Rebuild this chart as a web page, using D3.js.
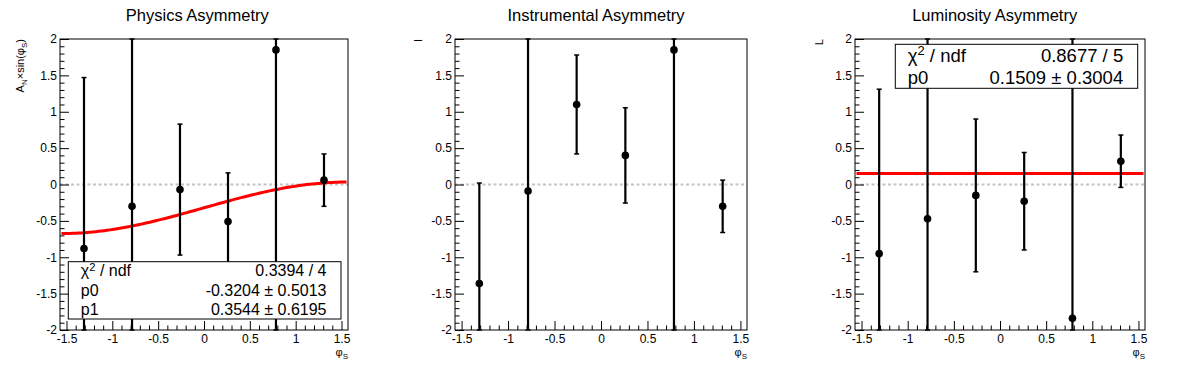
<!DOCTYPE html>
<html>
<head>
<meta charset="utf-8">
<script src="https://cdn.jsdelivr.net/npm/d3@7"></script>
<style>
  body { margin: 0; background: #fff; }
  text { font-family: "Liberation Sans", Arial, Helvetica, sans-serif; fill: #000; }
</style>
</head>
<body>
<div id="chart"></div>
<script>
// data
const binCenters = [-1.309, -0.785, -0.262, 0.262, 0.785, 1.309];

const physVals = [-0.88, -0.30, -0.07, -0.51, 1.85, 0.06];
const physErrs = [2.35, 3.0, 0.90, 0.67, 4.0, 0.36];
const instVals = [-1.36, -0.09, 1.10, 0.40, 1.85, -0.30];
const instErrs = [1.38, 3.0, 0.68, 0.655, 4.0, 0.36];
const lumiVals = [-0.95, -0.47, -0.15, -0.23, -1.84, 0.32];
const lumiErrs = [2.26, 3.0, 1.05, 0.67, 4.0, 0.36];

// fit results (p0 + p1*sin(phi) and p0)
const physFit = [-0.3204, 0.3544];
const lumiFit = [0.1509];
const physStats = [["χ2 / ndf", "0.3394 / 4"], ["p0", "-0.3204 ± 0.5013"], ["p1", "0.3544 ± 0.6195"]];
const lumiStats = [["χ2 / ndf", "0.8677 / 5"], ["p0", "0.1509 ± 0.3004"]];

const xTicks = [-1.5, -1, -0.5, 0, 0.5, 1, 1.5];
const yTicks = [-2, -1.5, -1, -0.5, 0, 0.5, 1, 1.5, 2];
const xDomain = [-Math.PI / 2, Math.PI / 2];
const yDomain = [-2, 2];
const fitRange = [-1.555, 1.555];

const width = 1196;
const height = 372;
const frameTop = 39, frameBottom = 330;
const padW = width / 3;

const svg = d3.select("#chart").append("svg")
  .attr("width", width)
  .attr("height", height);

const pads = [
  { title: "Physics Asymmetry", left: 60, right: 348, vals: physVals, errs: physErrs,
    fit: physFit, stats: physStats, statBox: [68.3, 261.7, 341, 319], statFont: 16, rowH: 19.5, row0: 270.5,
    yTitle: "phys", yTitleX: 24 },
  { title: "Instrumental Asymmetry", left: 455, right: 747, vals: instVals, errs: instErrs,
    fit: null, stats: null, yTitle: "I", yTitleX: 421.5 },
  { title: "Luminosity Asymmetry", left: 855, right: 1145, vals: lumiVals, errs: lumiErrs,
    fit: lumiFit, stats: lumiStats, statBox: [895.3, 44.3, 1137.7, 88.3], statFont: 18.5, rowH: 22, row0: 55.3,
    yTitle: "L", yTitleX: 822.5 }
];

pads.forEach((p, pi) => {
  const g = svg.append("g");
  const x = d3.scaleLinear().domain(xDomain).range([p.left, p.right]);
  const y = d3.scaleLinear().domain(yDomain).range([frameBottom, frameTop]);

  // title
  g.append("text")
    .attr("x", padW * pi + padW / 2 - 2)
    .attr("y", 21)
    .attr("text-anchor", "middle")
    .style("font-size", "16.5px")
    .text(p.title);

  // zero line
  g.append("line")
    .attr("x1", x(xDomain[0])).attr("x2", x(xDomain[1]))
    .attr("y1", y(0)).attr("y2", y(0))
    .attr("stroke", "#c4c4c4")
    .attr("stroke-width", 2)
    .attr("stroke-dasharray", "3,2.5");

  // axes, ticks inside the frame
  const xMinor = d3.range(-15, 16).map(d => d / 10).filter(d => !xTicks.includes(d));
  const yMinor = d3.range(-20, 21).map(d => d / 10).filter(d => !yTicks.includes(d));

  const xAxis = g.append("g")
    .attr("transform", "translate(0," + frameBottom + ")")
    .call(d3.axisBottom(x).tickValues(xTicks).tickSizeInner(-9).tickSizeOuter(0)
      .tickPadding(3).tickFormat(d => String(d)));
  xAxis.selectAll("text").style("font-size", "12px").attr("y", 4).attr("dy", "0.71em");
  g.append("g")
    .attr("transform", "translate(0," + frameBottom + ")")
    .call(d3.axisBottom(x).tickValues(xMinor).tickSizeInner(-4.5).tickSizeOuter(0).tickFormat(""));

  const yAxis = g.append("g")
    .attr("transform", "translate(" + p.left + ",0)")
    .call(d3.axisLeft(y).tickValues(yTicks).tickSizeInner(-9).tickSizeOuter(0)
      .tickPadding(3).tickFormat(d => String(d)));
  yAxis.selectAll("text").style("font-size", "12px").attr("x", -3);
  g.append("g")
    .attr("transform", "translate(" + p.left + ",0)")
    .call(d3.axisLeft(y).tickValues(yMinor).tickSizeInner(-4.5).tickSizeOuter(0).tickFormat(""));

  g.selectAll(".domain").remove();
  g.selectAll(".tick line").attr("stroke", "#000");

  // frame
  g.append("rect")
    .attr("x", p.left).attr("y", frameTop)
    .attr("width", p.right - p.left).attr("height", frameBottom - frameTop)
    .attr("fill", "none").attr("stroke", "#000").attr("stroke-width", 1);

  // axis titles
  const xt = g.append("text")
    .attr("x", p.right).attr("y", 356)
    .attr("text-anchor", "end")
    .style("font-size", "11px");
  xt.append("tspan").text("φ");
  xt.append("tspan").attr("dy", 3).style("font-size", "8px").text("S");

  const yt = g.append("text")
    .attr("transform", "translate(" + p.yTitleX + "," + frameTop + ") rotate(-90)")
    .attr("text-anchor", "end")
    .style("font-size", "11px");
  if (p.yTitle === "phys") {
    yt.append("tspan").text("A");
    yt.append("tspan").attr("dy", 3).style("font-size", "8px").text("N");
    yt.append("tspan").attr("dy", -3).text("×sin(φ");
    yt.append("tspan").attr("dy", 3).style("font-size", "8px").text("S");
    yt.append("tspan").attr("dy", -3).text(")");
  } else {
    yt.text(p.yTitle);
  }

  // fit function
  if (p.fit) {
    const f = xv => p.fit.length > 1 ? p.fit[0] + p.fit[1] * Math.sin(xv) : p.fit[0];
    const xs = d3.range(fitRange[0], fitRange[1] + 1e-9, (fitRange[1] - fitRange[0]) / 100);
    g.append("path")
      .datum(xs)
      .attr("fill", "none")
      .attr("stroke", "#ff0000")
      .attr("stroke-width", 3)
      .attr("d", d3.line().x(d => x(d)).y(d => y(f(d))));
  }

  // error bars and markers
  const clampY = v => Math.max(yDomain[0], Math.min(yDomain[1], v));
  const pts = binCenters.map((c, i) => ({ c: c, v: p.vals[i], e: p.errs[i] }));

  const eb = g.selectAll(".err").data(pts).enter().append("g").attr("class", "err");
  eb.append("line")
    .attr("x1", d => x(d.c)).attr("x2", d => x(d.c))
    .attr("y1", d => y(clampY(d.v + d.e))).attr("y2", d => y(clampY(d.v - d.e)))
    .attr("stroke", "#000").attr("stroke-width", 2.2);
  [1, -1].forEach(s => {
    eb.append("line")
      .attr("x1", d => x(d.c) - 2.5).attr("x2", d => x(d.c) + 2.5)
      .attr("y1", d => y(clampY(d.v + s * d.e))).attr("y2", d => y(clampY(d.v + s * d.e)))
      .attr("stroke", "#000").attr("stroke-width", 1.5);
  });
  eb.append("circle")
    .attr("cx", d => x(d.c)).attr("cy", d => y(d.v))
    .attr("r", 3.8)
    .attr("fill", "#000");

  // stats box
  if (p.stats) {
    const b = p.statBox;
    g.append("rect")
      .attr("x", b[0]).attr("y", b[1])
      .attr("width", b[2] - b[0]).attr("height", b[3] - b[1])
      .attr("fill", "#fff").attr("stroke", "#000").attr("stroke-width", 1);
    p.stats.forEach((r, i) => {
      const by = p.row0 + i * p.rowH + p.statFont * 0.36;
      const lt = g.append("text")
        .attr("x", b[0] + 12.5).attr("y", by)
        .style("font-size", p.statFont + "px");
      if (r[0].startsWith("χ2")) {
        lt.append("tspan").text("χ");
        lt.append("tspan").attr("dy", -p.statFont * 0.35).style("font-size", (p.statFont * 0.7) + "px").text("2");
        lt.append("tspan").attr("dy", p.statFont * 0.35).text(" / ndf");
      } else {
        lt.text(r[0]);
      }
      g.append("text")
        .attr("x", b[2] - 14.5).attr("y", by)
        .attr("text-anchor", "end")
        .style("font-size", p.statFont + "px")
        .text(r[1]);
    });
  }
});
</script>
</body>
</html>
